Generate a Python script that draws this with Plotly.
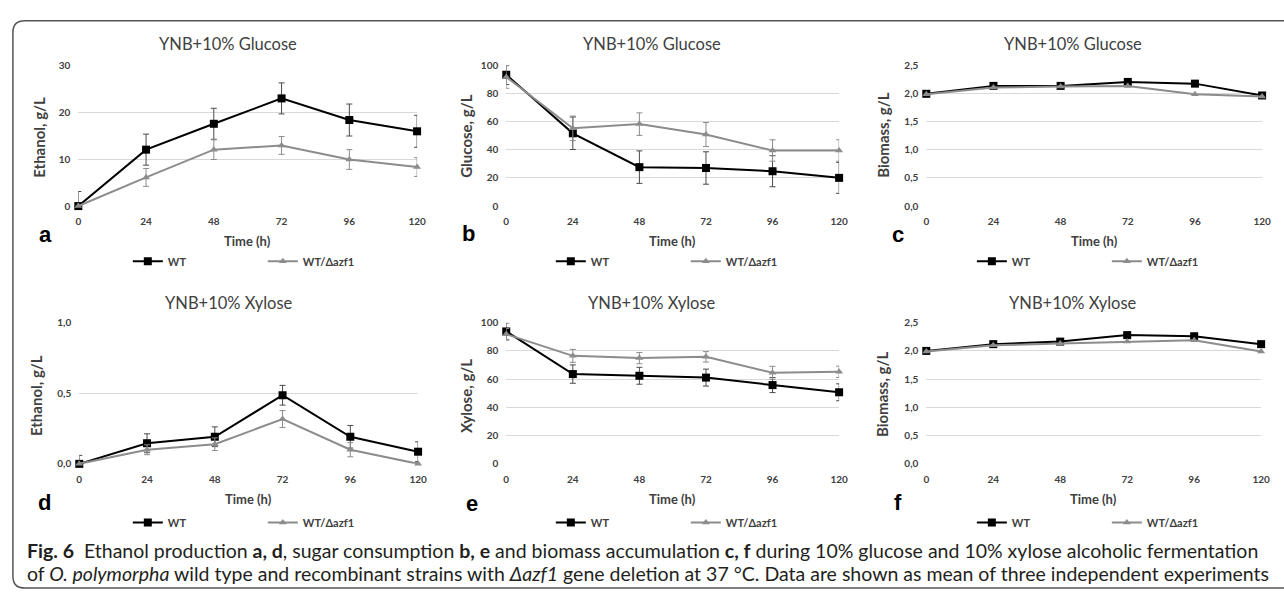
import plotly.graph_objects as go

W, H = 1284, 598

# ---------------- data ----------------
time_h = [0, 24, 48, 72, 96, 120]
series_names = ["WT", "WT/Δazf1"]

eth_glc_wt = [0, 12.0, 17.5, 22.9, 18.3, 15.9]
eth_glc_wt_err = [3.1, 3.3, 3.3, 3.3, 3.4, 3.4]
eth_glc_az = [0, 6.1, 12.0, 12.9, 9.9, 8.3]
eth_glc_az_err = [0, 1.9, 2.1, 1.9, 2.1, 2.0]

glc_wt = [93.1, 51.6, 27.6, 27.0, 24.7, 20.0]
glc_wt_err = [7, 11.5, 11.5, 11.5, 11, 11]
glc_az = [91.5, 55.1, 58.1, 50.7, 39.4, 39.4]
glc_az_err = [8, 8.7, 8, 8.5, 7.6, 7.6]

bio_glc_wt = [1.99, 2.13, 2.13, 2.20, 2.17, 1.96]
bio_glc_az = [1.98, 2.10, 2.12, 2.13, 1.98, 1.94]

eth_xyl_wt = [0, 0.146, 0.192, 0.486, 0.192, 0.086]
eth_xyl_wt_err = [0.06, 0.067, 0.07, 0.07, 0.08, 0.07]
eth_xyl_az = [0, 0.10, 0.139, 0.317, 0.10, 0.0]
eth_xyl_az_err = [0, 0.035, 0.045, 0.06, 0.05, 0.0]

xyl_wt = [93.8, 63.6, 62.4, 61.1, 55.8, 50.7]
xyl_wt_err = [6, 6.5, 6, 6, 5.3, 6]
xyl_az = [91.9, 76.5, 74.9, 75.8, 64.5, 65.2]
xyl_az_err = [4, 4.6, 4, 3.7, 4.6, 4]

bio_xyl_wt = [2.0, 2.12, 2.165, 2.28, 2.26, 2.12]
bio_xyl_az = [1.99, 2.10, 2.13, 2.165, 2.19, 1.99]

panel_titles = ["YNB+10% Glucose"] * 3 + ["YNB+10% Xylose"] * 3
y_titles = ["Ethanol, g/L", "Glucose, g/L", "Biomass, g/L",
            "Ethanol, g/L", "Xylose, g/L", "Biomass, g/L"]
panel_letters = ["a", "b", "c", "d", "e", "f"]
x_title = "Time (h)"
y_ranges = [[0, 30], [0, 100], [0, 2.5], [0, 1.0], [0, 100], [0, 2.5]]
y_dticks = [10, 20, 0.5, 0.5, 20, 0.5]
y_formats = ["", "", ".1f", ".1f", "", ".1f"]

panels = [
    (eth_glc_wt, eth_glc_wt_err, eth_glc_az, eth_glc_az_err),
    (glc_wt, glc_wt_err, glc_az, glc_az_err),
    (bio_glc_wt, None, bio_glc_az, None),
    (eth_xyl_wt, eth_xyl_wt_err, eth_xyl_az, eth_xyl_az_err),
    (xyl_wt, xyl_wt_err, xyl_az, xyl_az_err),
    (bio_xyl_wt, None, bio_xyl_az, None),
]

caption1 = ("<b>Fig. 6</b>  Ethanol production <b>a, d</b>, sugar consumption <b>b, e</b> and biomass "
            "accumulation <b>c, f</b> during 10% glucose and 10% xylose alcoholic fermentation")
caption2 = ("of <i>O. polymorpha</i> wild type and recombinant strains with <i>Δazf1</i> gene deletion "
            "at 37 °C. Data are shown as mean of three independent experiments")

# ---------------- layout geometry (pixels) ----------------
def px(x):
    return x / W

def py(y):
    return 1 - y / H

plot_boxes = [  # left, right, top, bottom
    (76, 418, 59.3, 203.5),
    (508, 844, 59.3, 203.5),
    (932, 1271, 59.3, 203.5),
    (77, 419, 322.7, 467),
    (508, 844, 322.7, 467),
    (932, 1270, 322.7, 467),
]
title_pos = [(227, 38), (655, 38), (1080, 38), (228, 303), (655, 303), (1080, 303)]
ytitle_pos = [(36, 133), (468, 132), (888, 131), (34, 397), (468, 398), (888, 396)]
letter_pos = [(43, 233), (470, 232), (903, 233), (42, 507), (473, 508), (903, 506)]
legend_x = [126, 553, 978, 126, 553, 978]
legend_y = [260, 260, 260, 527, 527, 527]

WT_COLOR = "#000000"
AZ_COLOR = "#8c8c8c"
TXT = "#404040"
FONT = "Lato, 'Open Sans', sans-serif"

fig = go.Figure()

for i, (wt, wt_e, az, az_e) in enumerate(panels):
    n = i + 1
    xa = "x" if n == 1 else f"x{n}"
    ya = "y" if n == 1 else f"y{n}"
    lg = "legend" if n == 1 else f"legend{n}"
    fig.add_trace(go.Scatter(
        x=time_h, y=wt, name=series_names[0], mode="lines+markers",
        xaxis=xa, yaxis=ya, legend=lg, cliponaxis=False,
        line=dict(color=WT_COLOR, width=2),
        marker=dict(symbol="square", size=8, color=WT_COLOR),
        error_y=(dict(type="data", array=wt_e, visible=True, color="#4a4a4a",
                      thickness=1, width=3) if wt_e else None),
    ))
    fig.add_trace(go.Scatter(
        x=time_h, y=az, name=series_names[1], mode="lines+markers",
        xaxis=xa, yaxis=ya, legend=lg, cliponaxis=False,
        line=dict(color=AZ_COLOR, width=2),
        marker=dict(symbol="triangle-up", size=7, color=AZ_COLOR),
        error_y=(dict(type="data", array=az_e, visible=True, color="#8c8c8c",
                      thickness=1, width=3) if az_e else None),
    ))

layout = dict(
    width=W, height=H,
    margin=dict(l=0, r=0, t=0, b=0),
    paper_bgcolor="white", plot_bgcolor="white",
    separators=", ",
    font=dict(family=FONT, color=TXT),
    annotations=[], shapes=[],
)

for i in range(6):
    n = i + 1
    l, r, t, b = plot_boxes[i]
    xk = "xaxis" if n == 1 else f"xaxis{n}"
    yk = "yaxis" if n == 1 else f"yaxis{n}"
    lk = "legend" if n == 1 else f"legend{n}"
    ya = "y" if n == 1 else f"y{n}"
    xa = "x" if n == 1 else f"x{n}"
    layout[xk] = dict(
        domain=[px(l), px(r)], anchor=ya, range=[0, 120],
        tickvals=time_h, showgrid=False, zeroline=False, showline=False,
        ticks="", ticklabelstandoff=8,
        tickfont=dict(family=FONT, size=10, color=TXT, weight="bold"),
    )
    layout[yk] = dict(
        domain=[py(b), py(t)], anchor=xa, range=y_ranges[i], dtick=y_dticks[i],
        tick0=0, tickformat=y_formats[i], showgrid=True, gridcolor="#d9d9d9",
        gridwidth=1, zeroline=False, showline=False, ticks="", ticklabelstandoff=7,
        tickfont=dict(family=FONT, size=10, color=TXT, weight="bold"),
    )
    layout[lk] = dict(
        orientation="h", x=px(legend_x[i]), y=py(legend_y[i]),
        xanchor="left", yanchor="middle", bgcolor="rgba(0,0,0,0)",
        entrywidth=90, entrywidthmode="pixels", itemwidth=30,
        font=dict(family=FONT, size=11, color=TXT, weight="bold"),
    )
    tx, ty = title_pos[i]
    layout["annotations"].append(dict(
        x=px(tx), y=py(ty), xref="paper", yref="paper", text=panel_titles[i],
        showarrow=False, xanchor="center", yanchor="middle",
        font=dict(family=FONT, size=16.5, color="#404040")))
    yx, yy = ytitle_pos[i]
    layout["annotations"].append(dict(
        x=px(yx), y=py(yy), xref="paper", yref="paper", text=y_titles[i],
        showarrow=False, xanchor="center", yanchor="middle", textangle=-90,
        font=dict(family=FONT, size=15, color=TXT, weight="bold")))
    layout["annotations"].append(dict(
        x=px((l + r) / 2), y=py(b + 35.5), xref="paper", yref="paper", text=x_title,
        showarrow=False, xanchor="center", yanchor="middle",
        font=dict(family=FONT, size=13, color=TXT, weight="bold")))
    lx, ly = letter_pos[i]
    layout["annotations"].append(dict(
        x=px(lx), y=py(ly), xref="paper", yref="paper", text=panel_letters[i],
        showarrow=False, xanchor="center", yanchor="middle",
        font=dict(family="'Liberation Sans', Arial, sans-serif", size=22, color="#000000",
                  weight="bold")))

CAP_FONT = "Lato, 'Open Sans', sans-serif"
for txt, yy in [(caption1, 556), (caption2, 579)]:
    layout["annotations"].append(dict(
        x=px(22), y=py(yy), xref="paper", yref="paper", text=txt,
        showarrow=False, xanchor="left", yanchor="middle",
        font=dict(family=CAP_FONT, size=19.5, color="#231f20")))

# rounded frame
r = 12
x0, y0, x1, y1 = 10, 14, 1300, 594
path = (f"M {px(x0)},{py(y0 + r)} Q {px(x0)},{py(y0)} {px(x0 + r)},{py(y0)} "
        f"L {px(x1)},{py(y0)} L {px(x1)},{py(y1)} L {px(x0 + r)},{py(y1)} "
        f"Q {px(x0)},{py(y1)} {px(x0)},{py(y1 - r)} Z")
layout["shapes"].append(dict(type="path", xref="paper", yref="paper", path=path,
                             line=dict(color="#555555", width=1.5), layer="below"))

fig.update_layout(**layout)
fig.write_html("out.html")
